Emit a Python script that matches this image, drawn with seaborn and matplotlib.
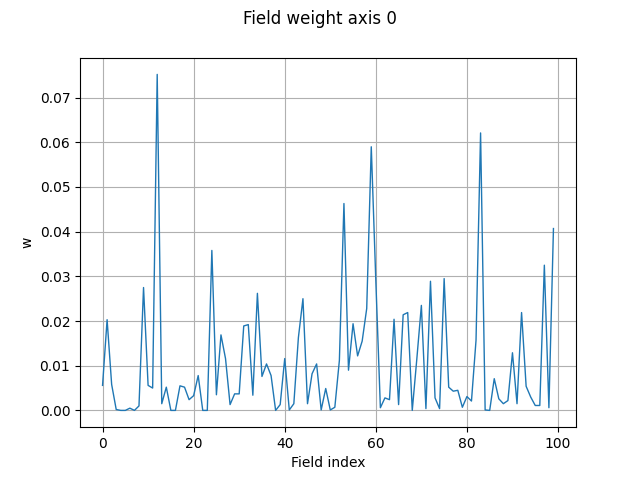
import matplotlib
matplotlib.use("Agg")
import matplotlib.pyplot as plt
import seaborn as sns
import numpy as np

field_index = list(range(100))
weights = [
    0.0056, 0.0203, 0.0058, 0.0002, 0.0000, 0.0000, 0.0005, 0.0000, 0.0010, 0.0275,
    0.0056, 0.0050, 0.0752, 0.0015, 0.0052, 0.0000, 0.0000, 0.0055, 0.0052, 0.0024,
    0.0033, 0.0078, 0.0000, 0.0000, 0.0358, 0.0035, 0.0169, 0.0116, 0.0013, 0.0037,
    0.0037, 0.0189, 0.0192, 0.0034, 0.0262, 0.0076, 0.0104, 0.0078, 0.0000, 0.0013,
    0.0116, 0.0001, 0.0015, 0.0163, 0.0250, 0.0015, 0.0082, 0.0104, 0.0001, 0.0049,
    0.0001, 0.0007, 0.0112, 0.0463, 0.0090, 0.0194, 0.0122, 0.0155, 0.0228, 0.0590,
    0.0290, 0.0006, 0.0028, 0.0024, 0.0204, 0.0013, 0.0214, 0.0219, 0.0000, 0.0115,
    0.0235, 0.0004, 0.0289, 0.0028, 0.0004, 0.0295, 0.0052, 0.0043, 0.0045, 0.0007,
    0.0031, 0.0021, 0.0157, 0.0621, 0.0001, 0.0000, 0.0071, 0.0026, 0.0015, 0.0022,
    0.0129, 0.0015, 0.0219, 0.0054, 0.0030, 0.0011, 0.0011, 0.0325, 0.0006, 0.0407,
]

fig, ax = plt.subplots(figsize=(6.4, 4.8), dpi=100)
sns.lineplot(x=field_index, y=weights, ax=ax, color="#1f77b4", linewidth=1)
ax.grid(True, color="#b0b0b0", linewidth=0.8)
ax.set_xlabel("Field index")
ax.set_ylabel("w")
fig.suptitle("Field weight axis 0")
fig.savefig("out.png", dpi=100)
